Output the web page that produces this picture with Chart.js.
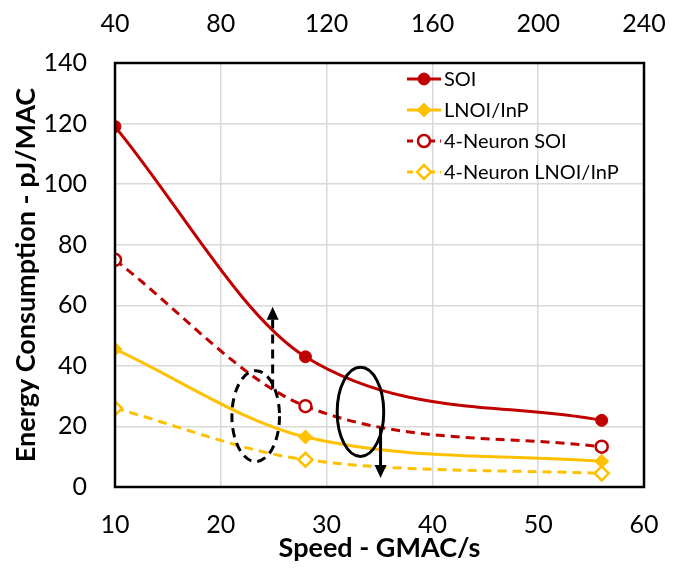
<!DOCTYPE html>
<html>
<head>
<meta charset="utf-8">
<script src="https://cdn.jsdelivr.net/npm/chart.js@4"></script>
<style>
  html, body { margin: 0; padding: 0; background: #fff; }
  #wrap { width: 679px; height: 568px; }
</style>
</head>
<body>
<div id="wrap"><canvas id="chart" width="679" height="568"></canvas></div>
<script>
// data
const speeds = [10, 28, 56];
const soi = [119, 43, 22];
const lnoi = [45.5, 16.5, 8.5];
const soi4 = [75, 26.7, 13.3];
const lnoi4 = [26, 9, 4.5];
const yTicks = [0, 20, 40, 60, 80, 100, 120, 140];
const topTicks = [40, 80, 120, 160, 200, 240];

const RED = "#C00000";
const GOLD = "#FFC000";
const FONT = "Lato, 'Open Sans', sans-serif";

// ellipse + arrow annotations (data units)
const marks = [
  { cx: 23.3, cy: 23.4, rx: 2.25, ry: 15, dash: [9, 6], ax: 24.9, from: 32.5, to: 59.5 },
  { cx: 33.2, cy: 24.8, rx: 2.2, ry: 14.7, dash: [], ax: 35.1, from: 19.8, to: 3 }
];

const pts = arr => arr.map((v, i) => ({ x: speeds[i], y: v }));

function series(label, values, color, style, filled, dashed) {
  return {
    label, data: pts(values),
    borderColor: color, backgroundColor: filled ? color : "#fff",
    borderWidth: 3, borderDash: dashed ? [9, 6] : [],
    pointStyle: style, pointRadius: style === "rectRot" ? 7 : 6,
    pointBorderWidth: filled ? 1 : 2.5, pointBorderColor: color,
    pointBackgroundColor: filled ? color : "#fff",
    cubicInterpolationMode: "monotone", xAxisID: "x", yAxisID: "y"
  };
}

const noSidePad = s => { s.paddingLeft = 0; s.paddingRight = 0; };

const frame = {
  id: "frame",
  afterDatasetsDraw(chart) {
    const { ctx, chartArea: a, scales: { x, y } } = chart;
    ctx.save();
    // annotations
    ctx.strokeStyle = "#000"; ctx.fillStyle = "#000"; ctx.lineWidth = 3;
    marks.forEach(m => {
      ctx.setLineDash(m.dash);
      ctx.beginPath();
      const cx = x.getPixelForValue(m.cx), cy = y.getPixelForValue(m.cy);
      const rx = x.getPixelForValue(m.cx + m.rx) - cx;
      const ry = cy - y.getPixelForValue(m.cy + m.ry);
      ctx.ellipse(cx, cy, rx, ry, 0, 0, Math.PI * 2);
      ctx.stroke();
      const ax = x.getPixelForValue(m.ax);
      const y1 = y.getPixelForValue(m.from), y2 = y.getPixelForValue(m.to);
      const dir = y2 < y1 ? 1 : -1;
      ctx.beginPath();
      ctx.moveTo(ax, y1); ctx.lineTo(ax, y2 + dir * 10);
      ctx.stroke();
      ctx.setLineDash([]);
      ctx.beginPath();
      ctx.moveTo(ax, y2); ctx.lineTo(ax - 6, y2 + dir * 13); ctx.lineTo(ax + 6, y2 + dir * 13);
      ctx.closePath(); ctx.fill();
    });
    // legend
    ctx.font = "20px " + FONT;
    ctx.textBaseline = "middle";
    chart.data.datasets.forEach((ds, i) => {
      const ly = a.top + 16 + i * 31, lx = a.right - 237;
      ctx.strokeStyle = ds.borderColor; ctx.lineWidth = 3;
      ctx.setLineDash(ds.borderDash.length ? [6, 5] : []);
      ctx.beginPath(); ctx.moveTo(lx, ly); ctx.lineTo(lx + 34, ly); ctx.stroke();
      ctx.setLineDash([]);
      ctx.fillStyle = ds.pointBackgroundColor; ctx.lineWidth = ds.pointBorderWidth;
      const mx = lx + 17;
      ctx.beginPath();
      if (ds.pointStyle === "rectRot") {
        ctx.moveTo(mx, ly - 7); ctx.lineTo(mx + 7, ly); ctx.lineTo(mx, ly + 7); ctx.lineTo(mx - 7, ly);
        ctx.closePath();
      } else {
        ctx.arc(mx, ly, 6, 0, Math.PI * 2);
      }
      ctx.fill(); ctx.stroke();
      ctx.fillStyle = "#000";
      ctx.fillText(ds.label, lx + 37, ly + 1);
    });
    // plot border
    ctx.strokeStyle = "#000"; ctx.lineWidth = 2.5;
    ctx.strokeRect(a.left, a.top, a.right - a.left, a.bottom - a.top);
    ctx.restore();
  }
};

new Chart(document.getElementById("chart").getContext("2d"), {
  type: "line",
  data: {
    datasets: [
      series("SOI", soi, RED, "circle", true, false),
      series("LNOI/InP", lnoi, GOLD, "rectRot", true, false),
      series("4-Neuron SOI", soi4, RED, "circle", false, true),
      series("4-Neuron LNOI/InP", lnoi4, GOLD, "rectRot", false, true)
    ]
  },
  options: {
    responsive: false, animation: false,
    layout: { padding: { left: 0, right: 35, top: 0, bottom: 0 } },
    plugins: { legend: { display: false }, tooltip: { enabled: false } },
    scales: {
      x: {
        type: "linear", position: "bottom", min: 10, max: 60,
        grid: { color: "#d9d9d9", lineWidth: 1.5, drawTicks: false },
        border: { display: false },
        ticks: { stepSize: 10, padding: 23, color: "#000", font: { family: FONT, size: 25 } },
        title: { display: true, text: "Speed - GMAC/s", color: "#000", padding: { top: -8 },
                 font: { family: FONT, size: 27, weight: "bold" } },
        afterFit: s => { s.height = 81; noSidePad(s); }
      },
      x2: {
        type: "linear", position: "top", min: topTicks[0], max: topTicks[topTicks.length - 1],
        grid: { display: false, drawTicks: false }, border: { display: false },
        afterBuildTicks: s => { s.ticks = topTicks.map(v => ({ value: v })); },
        ticks: { padding: 24, color: "#000", font: { family: FONT, size: 25 } },
        afterFit: s => { s.height = 63; noSidePad(s); }
      },
      y: {
        type: "linear", min: 0, max: 140,
        afterBuildTicks: s => { s.ticks = yTicks.map(v => ({ value: v })); },
        grid: { color: "#d9d9d9", lineWidth: 1.5, drawTicks: false },
        border: { display: false },
        ticks: { padding: 28, color: "#000", font: { family: FONT, size: 25 } },
        title: { display: true, text: "Energy Consumption - pJ/MAC", color: "#000", padding: { top: 10, bottom: 0 },
                 font: { family: FONT, size: 27, weight: "bold" } },
        afterFit: s => { s.width = 115; s.paddingTop = 0; s.paddingBottom = 0; }
      }
    }
  },
  plugins: [frame]
});
</script>
</body>
</html>
